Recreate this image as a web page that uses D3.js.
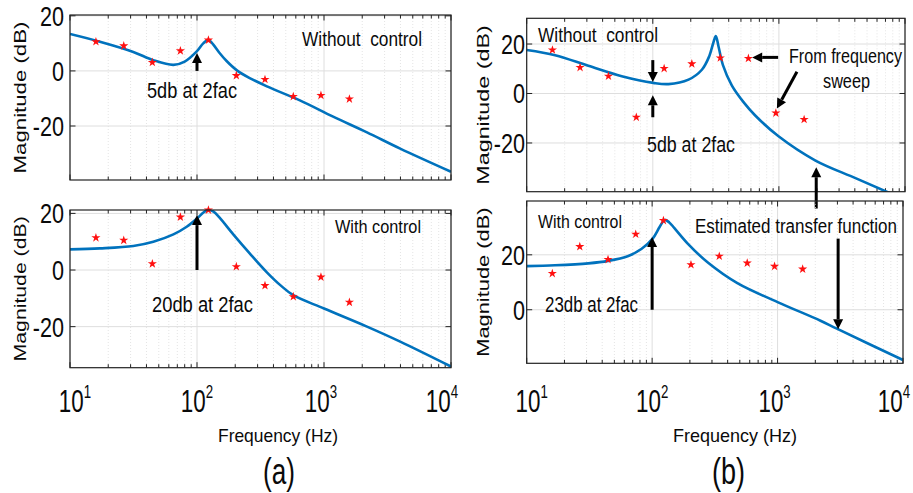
<!DOCTYPE html>
<html>
<head>
<meta charset="utf-8">
<script src="https://cdn.jsdelivr.net/npm/d3@7"></script>
<style>
  body { margin: 0; background: #fff; }
  text { font-family: "Liberation Sans", Arial, Helvetica, sans-serif; fill: #0a0a0a; }
</style>
</head>
<body>
<div id="chart"></div>
<script>
// x axis decades
var decadeTicks = [10, 100, 1000, 10000];

// frequency sweep points (red stars), same frequencies in all four plots
var sweepFreq = [16, 26.5, 44.5, 74, 123, 204, 343, 573, 946, 1585];
var sweepA1 = [10.6, 9.1, 3.1, 7.3, 11.2, -1.7, -3.1, -9.3, -8.9, -10.2];
var sweepA2 = [11.4, 10.5, 2.2, 18.7, 21.2, 1.2, -5.5, -9.4, -2.5, -11.4];
var sweepB1 = [17.6, 10.5, 7.0, -9.6, 10.1, 12.0, 14.4, 14.2, -7.9, -10.5];
var sweepB2 = [13.2, 23.0, 18.3, 27.5, 32.5, 16.4, 19.5, 17.0, 15.8, 14.8];

// estimated transfer function (blue line)
var fitA1Freq = [10, 17.2, 31.5, 45.3, 65.2, 80, 100, 112, 123, 134, 150, 171, 205, 260, 355, 646, 1180, 2180, 3980, 10000];
var fitA1Db   = [13.4, 10.6, 6.9, 3.9, 2.2, 3.4, 7.2, 10.0, 11.3, 9.6, 6.6, 3.6, 0.3, -2.6, -5.6, -10.7, -16.6, -22.3, -28.2, -36.6];

var fitA2Freq = [10, 17.2, 31.5, 45.3, 65.2, 83, 100, 113, 123, 135, 150, 193, 261, 355, 460, 573, 1000, 2180, 3980, 10000];
var fitA2Db   = [7.3, 7.65, 8.5, 10.0, 12.6, 15.3, 18.2, 20.4, 21.3, 20.6, 18.6, 12.6, 5.8, -0.8, -5.6, -8.9, -13.6, -20.0, -25.3, -34.1];

var fitB1Freq = [10, 16.8, 30.8, 56.7, 101, 133, 192, 245, 280, 302, 316, 332, 360, 424, 530, 649, 993, 1950, 4050, 7000, 10000];
var fitB1Db   = [17.6, 15.5, 11.2, 7.0, 4.3, 3.8, 5.6, 9.6, 15.0, 20.5, 23.2, 19.0, 11.5, 3.2, -3.8, -8.9, -17.3, -27.1, -34.2, -39.5, -43.0];

var fitB2Freq = [10, 16.8, 31, 44.6, 64.6, 82, 101, 115, 126, 137, 150, 193, 278, 478, 1000, 2200, 2970, 10000];
var fitB2Db   = [15.9, 16.2, 16.9, 17.8, 19.6, 22.1, 25.9, 30.2, 32.7, 31.8, 29.8, 24.0, 17.2, 9.7, 2.8, -4.0, -6.9, -18.3];

// y ticks of each plot
var yTicksA1 = [-20, 0, 20];
var yTicksA2 = [-20, 0, 20];
var yTicksB1 = [-20, 0, 20];
var yTicksB2 = [0, 20];

// annotation arrows in data units: [fromFreq, fromDb, toFreq, toDb]
var arrowsA1 = [[100, 0, 100, 6.5]];
var arrowsA2 = [[100, 0, 100, 19.4]];
var arrowsB1 = [[100, 13.5, 100, 4.6], [100, -9.6, 100, -0.7],
                [986, 14.6, 614, 14.6], [1390, 8.8, 964, -6.1],
                [1977, -46.5, 1977, -29.8]];
var arrowsB2 = [[100, 0, 100, 26.5], [3040, 25.9, 3040, -7.1]];

var width = 913, height = 493;

var svg = d3.select("#chart")
            .append("svg")
            .attr("width", width)
            .attr("height", height);

var blue = "#0072BD";

var panels = [
  { id: "a1", box: {x0: 70, x1: 451, y0: 15, y1: 180}, yDomain: [-39.6, 20.3], yTicks: yTicksA1,
    fitF: fitA1Freq, fitDb: fitA1Db, sweep: sweepA1, arrows: arrowsA1, labelX: 64, yLabelX: 26, xLabels: false },
  { id: "a2", box: {x0: 70, x1: 451, y0: 210, y1: 367.7}, yDomain: [-34.5, 21.2], yTicks: yTicksA2,
    fitF: fitA2Freq, fitDb: fitA2Db, sweep: sweepA2, arrows: arrowsA2, labelX: 64, yLabelX: 26, xLabels: true },
  { id: "b1", box: {x0: 526.7, x1: 905, y0: 18.3, y1: 191.7}, yDomain: [-39.7, 30.4], yTicks: yTicksB1,
    fitF: fitB1Freq, fitDb: fitB1Db, sweep: sweepB1, arrows: arrowsB1, labelX: 525, yLabelX: 489, xLabels: false },
  { id: "b2", box: {x0: 526.7, x1: 903, y0: 201, y1: 363.3}, yDomain: [-19.5, 39.6], yTicks: yTicksB2,
    fitF: fitB2Freq, fitDb: fitB2Db, sweep: sweepB2, arrows: arrowsB2, labelX: 525, yLabelX: 489, xLabels: true }
];

// small nudges of the 10^n labels, as in the figure
var xLabelShift = [5, 0, -3, -9];

// minor log positions 20,30,...,9000
var minorTicks = [];
decadeTicks.slice(0, -1).forEach(function(d) {
  for (var k = 2; k < 10; k++) minorTicks.push(d * k);
});

function drawPanel(p) {
  var b = p.box;
  var x = d3.scaleLog().domain([10, 10000]).range([b.x0, b.x1]);
  var y = d3.scaleLinear().domain(p.yDomain).range([b.y1, b.y0]);
  var g = svg.append("g").attr("id", "panel-" + p.id);

  g.append("clipPath").attr("id", "clip-" + p.id)
   .append("rect").attr("x", b.x0).attr("y", b.y0)
   .attr("width", b.x1 - b.x0).attr("height", b.y1 - b.y0);

  // grid
  g.selectAll(".minor").data(minorTicks).enter().append("line")
   .attr("x1", function(d) { return x(d); }).attr("x2", function(d) { return x(d); })
   .attr("y1", b.y0).attr("y2", b.y1)
   .attr("stroke", "#e4e4e4").attr("stroke-dasharray", "1,2");
  g.selectAll(".major").data(decadeTicks).enter().append("line")
   .attr("x1", function(d) { return x(d); }).attr("x2", function(d) { return x(d); })
   .attr("y1", b.y0).attr("y2", b.y1)
   .attr("stroke", "#dedede");
  g.selectAll(".hgrid").data(p.yTicks).enter().append("line")
   .attr("x1", b.x0).attr("x2", b.x1)
   .attr("y1", function(d) { return y(d); }).attr("y2", function(d) { return y(d); })
   .attr("stroke", "#dedede");

  // ticks inside the box
  [[b.y1, -1], [b.y0, 1]].forEach(function(side) {
    g.selectAll(null).data(minorTicks).enter().append("line")
     .attr("x1", function(d) { return x(d); }).attr("x2", function(d) { return x(d); })
     .attr("y1", side[0]).attr("y2", side[0] + side[1] * 3.5)
     .attr("stroke", "#222");
    g.selectAll(null).data(decadeTicks).enter().append("line")
     .attr("x1", function(d) { return x(d); }).attr("x2", function(d) { return x(d); })
     .attr("y1", side[0]).attr("y2", side[0] + side[1] * 5.5)
     .attr("stroke", "#222");
  });
  [[b.x0, 1], [b.x1, -1]].forEach(function(side) {
    g.selectAll(null).data(p.yTicks).enter().append("line")
     .attr("x1", side[0]).attr("x2", side[0] + side[1] * 5.5)
     .attr("y1", function(d) { return y(d); }).attr("y2", function(d) { return y(d); })
     .attr("stroke", "#222");
  });

  // estimated transfer function
  var pts = p.fitF.map(function(f, i) { return [f, p.fitDb[i]]; });
  var line = d3.line()
               .curve(d3.curveCatmullRom.alpha(0.5))
               .x(function(d) { return x(d[0]); })
               .y(function(d) { return y(d[1]); });
  g.append("path")
   .attr("clip-path", "url(#clip-" + p.id + ")")
   .attr("d", line(pts))
   .attr("fill", "none")
   .attr("stroke", blue)
   .attr("stroke-width", 2.6);

  // frequency sweep stars
  var star = d3.symbol(d3.symbolStar).size(26);
  g.selectAll(".star").data(sweepFreq).enter().append("path")
   .attr("d", star)
   .attr("transform", function(d, i) { return "translate(" + x(d) + "," + y(p.sweep[i]) + ")"; })
   .attr("fill", "#ff1010");

  // box
  g.append("rect").attr("x", b.x0).attr("y", b.y0)
   .attr("width", b.x1 - b.x0).attr("height", b.y1 - b.y0)
   .attr("fill", "none").attr("stroke", "#222").attr("stroke-width", 1.2);

  // y tick labels
  g.selectAll(".ylab").data(p.yTicks).enter().append("text")
   .attr("transform", function(d) { return "translate(" + p.labelX + "," + (y(d) + 10) + ") scale(0.8,1)"; })
   .attr("text-anchor", "end")
   .attr("font-size", 27)
   .text(function(d) { return d < 0 ? "-" + Math.abs(d) : d; });

  // y axis title
  var cy = (b.y0 + b.y1) / 2;
  var len = (b.y1 - b.y0) * 0.92;
  g.append("text")
   .attr("transform", "translate(" + p.yLabelX + "," + cy + ") rotate(-90)")
   .attr("x", -len / 2)
   .attr("font-size", 17)
   .attr("textLength", len)
   .attr("lengthAdjust", "spacingAndGlyphs")
   .text("Magnitude (dB)");

  // x tick labels 10^n
  if (p.xLabels) {
    var t = g.selectAll(".xlab").data(decadeTicks).enter().append("text")
             .attr("transform", function(d, i) {
               return "translate(" + (x(d) + xLabelShift[i]) + ",412) scale(0.7,1)";
             })
             .attr("text-anchor", "middle")
             .attr("font-size", 32);
    t.append("tspan").text("10");
    t.append("tspan").attr("dy", -14).attr("font-size", 19)
     .text(function(d) { return Math.round(Math.log10(d)); });
  }

  // arrows
  p.arrows.forEach(function(a) {
    var x1 = x(a[0]), y1 = y(a[1]), x2 = x(a[2]), y2 = y(a[3]);
    var ang = Math.atan2(y2 - y1, x2 - x1);
    var hl = 10, hw = 5;
    var bx = x2 - hl * Math.cos(ang), by = y2 - hl * Math.sin(ang);
    svg.append("line")
       .attr("x1", x1).attr("y1", y1).attr("x2", bx).attr("y2", by)
       .attr("stroke", "#000").attr("stroke-width", 3);
    svg.append("path")
       .attr("d", "M" + x2 + "," + y2 +
                  "L" + (bx + hw * Math.sin(ang)) + "," + (by - hw * Math.cos(ang)) +
                  "L" + (bx - hw * Math.sin(ang)) + "," + (by + hw * Math.cos(ang)) + "Z")
       .attr("fill", "#000");
  });
}

panels.forEach(drawPanel);

// annotation texts: [text, left x, baseline y, font size, width]
var notes = [
  ["Without\u00a0 control", 302, 46, 21, 120],
  ["5db at 2fac", 147, 98, 22, 90],
  ["With control", 335, 233, 19, 86],
  ["20db at 2fac", 152, 312, 22, 101],
  ["Without\u00a0 control", 538, 42, 21, 120],
  ["From frequency", 789, 63, 21, 113],
  ["sweep", 823, 88, 21, 47],
  ["5db at 2fac", 647, 152, 22, 88],
  ["With control", 538, 228, 19, 84],
  ["Estimated transfer function", 695, 233, 20, 202],
  ["23db at 2fac", 545, 312, 22, 93],
  ["Frequency (Hz)", 218, 442, 19, 120],
  ["Frequency (Hz)", 673, 442, 19, 124],
  ["(a)", 263, 484, 37, 32],
  ["(b)", 712, 484, 37, 33]
];

svg.selectAll(".note").data(notes).enter().append("text")
   .attr("x", function(d) { return d[1]; })
   .attr("y", function(d) { return d[2]; })
   .attr("font-size", function(d) { return d[3]; })
   .attr("textLength", function(d) { return d[4]; })
   .attr("lengthAdjust", "spacingAndGlyphs")
   .text(function(d) { return d[0]; });
</script>
</body>
</html>
